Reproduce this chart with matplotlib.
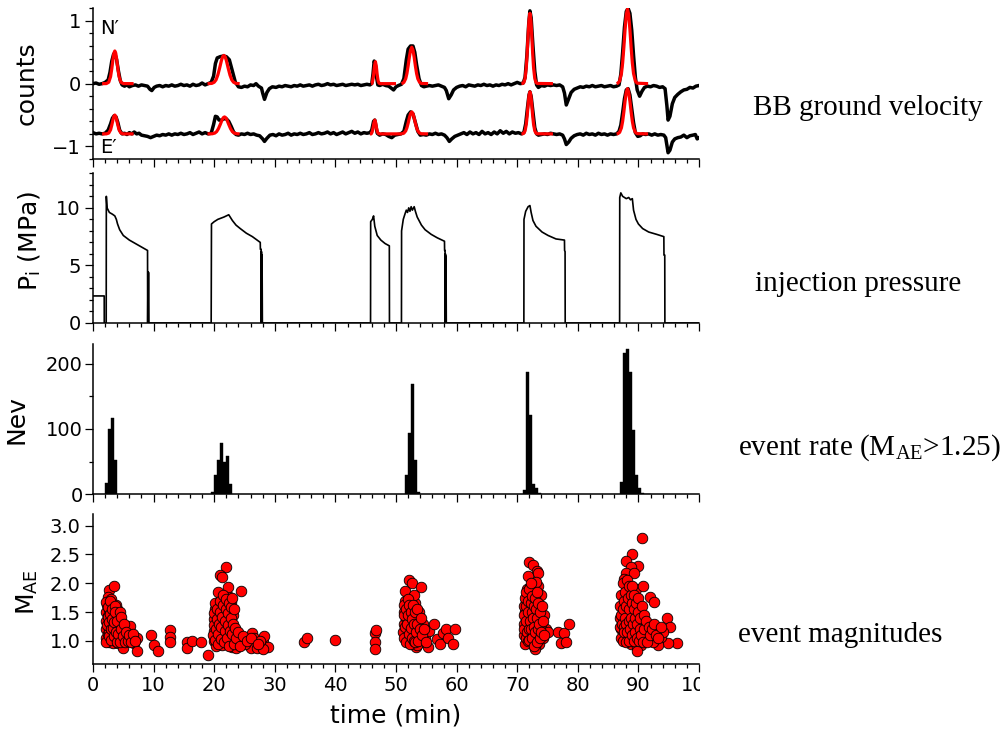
import numpy as np
import matplotlib
matplotlib.use("Agg")
import matplotlib.pyplot as plt
from matplotlib.ticker import MultipleLocator, FixedLocator
from matplotlib.transforms import Bbox, TransformedBbox

# ---------------- data ----------------
# BB ground velocity, N' component (time min, counts)
n_trace = [(0,0.0),(0.5,0.01),(1,-0.01),(1.5,0.0),(2,0.02),(2.5,0.06),(2.8,0.18),(3.1,0.36),(3.4,0.47),(3.6,0.48),
           (3.9,0.38),(4.2,0.2),(4.5,0.05),(4.8,-0.02),(5.2,-0.04),(5.6,-0.02),(6,-0.05),(6.5,-0.03),(7,-0.02),(7.5,-0.04),
           (8,-0.02),(8.5,-0.03),(9,-0.04),(9.4,-0.09),(9.7,-0.11),(10.1,-0.06),(10.5,-0.04),(11,-0.03),(11.5,-0.05),(12,-0.03),
           (12.5,-0.04),(13,-0.02),(13.5,-0.04),(14,-0.03),(14.5,-0.01),(15,-0.03),(15.5,-0.02),(16,-0.04),(16.5,-0.01),(17,-0.03),
           (17.5,-0.02),(18,0.01),(18.5,-0.02),(19,0.0),(19.5,0.02),(19.9,0.12),(20.2,0.32),(20.5,0.41),(21,0.43),(21.5,0.44),
           (22,0.43),(22.5,0.38),(23,0.2),(23.5,0.02),(24,-0.05),(24.5,-0.06),(25,-0.04),(25.5,-0.05),(26,-0.02),(26.5,-0.03),
           (26.9,0.0),(27.3,-0.04),(27.8,-0.07),(28.0,-0.15),(28.3,-0.25),(28.7,-0.14),(29.1,-0.08),(29.6,-0.05),(30.2,-0.06),
           (30.7,-0.04),(31.2,-0.05),(31.7,-0.03),(32.2,-0.04),(32.7,-0.05),(33.2,-0.03),(33.7,-0.04),(34.2,-0.02),(34.7,-0.04),
           (35.2,-0.03),(35.7,-0.02),(36.2,-0.04),(36.7,-0.02),(37.2,-0.01),(37.7,-0.03),(38.2,-0.02),(38.7,0.0),(39.2,-0.02),
           (39.7,-0.01),(40.2,-0.03),(40.7,-0.02),(41.2,-0.01),(41.7,-0.03),(42.2,-0.02),(42.7,-0.01),(43.2,-0.02),(43.7,-0.01),
           (44.2,-0.03),(44.7,-0.02),(45.2,-0.01),(45.7,-0.02),(46.0,0.0),(46.2,0.15),(46.4,0.36),(46.6,0.3),(46.8,0.1),
           (47.0,-0.02),(47.3,-0.03),(47.8,-0.01),(48.3,-0.03),(48.8,-0.04),(49.2,-0.07),(49.6,-0.1),(50.0,-0.05),(50.4,-0.03),
           (50.9,-0.01),(51.3,0.08),(51.7,0.38),(52.0,0.55),(52.4,0.6),(52.8,0.6),(53.1,0.5),(53.4,0.3),(53.8,0.08),(54.2,-0.03),
           (54.6,-0.05),(55.0,-0.04),(55.5,-0.03),(56.0,-0.04),(56.5,-0.03),(57.0,-0.02),(57.5,-0.04),(58.0,-0.06),(58.3,-0.11),
           (58.7,-0.24),(59.1,-0.18),(59.5,-0.1),(60.0,-0.06),(60.5,-0.04),(61,-0.03),(61.5,-0.05),(62,-0.02),(62.5,-0.03),
           (63,-0.04),(63.5,-0.02),(64,-0.03),(64.5,-0.01),(65,-0.03),(65.5,-0.02),(66,-0.04),(66.5,-0.02),(67,-0.03),
           (67.5,-0.01),(68,-0.02),(68.5,0.0),(69,-0.02),(69.5,0.0),(70,0.02),(70.5,0.0),(71.0,0.01),(71.3,0.1),(71.6,0.45),
           (71.9,0.95),(72.1,1.16),(72.3,1.05),(72.6,0.6),(72.9,0.2),(73.2,-0.02),(73.5,-0.06),(74,-0.03),(74.5,-0.04),(75,-0.02),
           (75.5,-0.03),(76,-0.02),(76.5,-0.03),(77,-0.02),(77.5,-0.05),(77.8,-0.15),(78.1,-0.34),(78.5,-0.24),(78.9,-0.14),
           (79.4,-0.09),(79.9,-0.07),(80.4,-0.05),(80.9,-0.06),(81.4,-0.04),(81.9,-0.05),(82.4,-0.03),(82.9,-0.05),(83.4,-0.04),
           (83.9,-0.03),(84.4,-0.05),(84.9,-0.04),(85.4,-0.03),(85.9,-0.05),(86.4,-0.04),(86.8,-0.02),(87.1,0.15),(87.4,0.5),
           (87.7,0.9),(88.0,1.15),(88.3,1.2),(88.6,1.12),(88.9,0.85),(89.2,0.45),(89.5,0.1),(89.8,-0.1),(90.2,-0.2),(90.6,-0.12),
           (91.0,-0.06),(91.5,-0.04),(92.0,-0.05),(92.5,-0.03),(93.0,-0.04),(93.5,-0.06),(94.0,-0.05),(94.4,-0.08),(94.7,-0.35),
           (94.9,-0.58),(95.2,-0.52),(95.6,-0.32),(96.0,-0.22),(96.5,-0.17),(97.0,-0.13),(97.5,-0.1),(98.0,-0.09),(98.5,-0.06),
           (99.0,-0.07),(99.5,-0.04),(100,-0.03)]

# BB ground velocity, E' component (shifted)
e_trace = [(0,-0.78),(0.5,-0.8),(1,-0.79),(1.5,-0.8),(2,-0.79),(2.5,-0.74),(2.9,-0.64),(3.2,-0.55),(3.5,-0.51),(3.8,-0.53),
           (4.1,-0.62),(4.4,-0.74),(4.8,-0.8),(5.2,-0.79),(5.6,-0.81),(6.0,-0.78),(6.4,-0.8),(6.8,-0.77),(7.2,-0.8),(7.6,-0.79),
           (8.0,-0.82),(8.5,-0.83),(9.0,-0.84),(9.5,-0.86),(10.0,-0.84),(10.5,-0.82),(11.0,-0.83),(11.5,-0.81),(12.0,-0.82),
           (12.5,-0.8),(13.0,-0.82),(13.5,-0.8),(14.0,-0.81),(14.5,-0.79),(15.0,-0.81),(15.5,-0.8),(16.0,-0.78),(16.5,-0.81),
           (17,-0.79),(17.5,-0.77),(18,-0.8),(18.5,-0.78),(19,-0.8),(19.5,-0.79),(19.9,-0.65),(20.2,-0.52),(20.5,-0.53),
           (20.8,-0.58),(21.2,-0.58),(21.6,-0.56),(22.0,-0.56),(22.4,-0.6),(22.8,-0.68),(23.2,-0.77),(23.6,-0.81),(24.0,-0.82),
           (24.5,-0.8),(25,-0.81),(25.5,-0.79),(26,-0.81),(26.5,-0.8),(27,-0.82),(27.5,-0.83),(28.0,-0.88),(28.3,-0.92),
           (28.7,-0.87),(29.2,-0.82),(29.7,-0.81),(30.2,-0.83),(30.7,-0.8),(31.2,-0.82),(31.7,-0.81),(32.2,-0.79),(32.7,-0.82),
           (33.2,-0.8),(33.7,-0.81),(34.2,-0.79),(34.7,-0.81),(35.2,-0.8),(35.7,-0.78),(36.2,-0.81),(36.7,-0.8),(37.2,-0.78),
           (37.7,-0.8),(38.2,-0.79),(38.7,-0.77),(39.2,-0.8),(39.7,-0.78),(40.2,-0.81),(40.7,-0.79),(41.2,-0.77),(41.7,-0.8),
           (42.2,-0.78),(42.7,-0.76),(43.2,-0.79),(43.7,-0.77),(44.2,-0.8),(44.7,-0.78),(45.2,-0.79),(45.7,-0.78),(46.0,-0.74),
           (46.3,-0.6),(46.5,-0.58),(46.7,-0.68),(46.9,-0.79),(47.3,-0.82),(47.8,-0.8),(48.3,-0.81),(48.8,-0.84),(49.3,-0.86),
           (49.8,-0.82),(50.3,-0.81),(50.8,-0.8),(51.3,-0.76),(51.7,-0.6),(52.0,-0.5),(52.4,-0.45),(52.8,-0.48),(53.2,-0.62),
           (53.6,-0.76),(54.0,-0.82),(54.5,-0.81),(55.0,-0.82),(55.5,-0.8),(56.0,-0.81),(56.5,-0.79),(57.0,-0.81),(57.5,-0.8),
           (58.0,-0.82),(58.4,-0.86),(58.8,-0.92),(59.2,-0.88),(59.7,-0.84),(60.2,-0.82),(60.7,-0.8),(61.2,-0.78),(61.7,-0.81),
           (62.2,-0.77),(62.7,-0.8),(63.2,-0.78),(63.7,-0.81),(64.2,-0.76),(64.7,-0.8),(65.2,-0.78),(65.7,-0.81),(66.2,-0.77),
           (66.7,-0.8),(67.2,-0.75),(67.7,-0.79),(68.2,-0.76),(68.7,-0.8),(69.2,-0.77),(69.7,-0.79),(70.2,-0.78),(70.7,-0.8),
           (71.1,-0.78),(71.4,-0.64),(71.7,-0.38),(71.95,-0.18),(72.1,-0.13),(72.3,-0.2),(72.6,-0.45),(72.9,-0.7),(73.2,-0.8),
           (73.5,-0.82),(74,-0.81),(74.5,-0.8),(75,-0.81),(75.5,-0.79),(76,-0.8),(76.5,-0.81),(77,-0.8),(77.5,-0.82),(77.8,-0.88),
           (78.1,-0.97),(78.5,-0.93),(78.9,-0.87),(79.4,-0.83),(79.9,-0.81),(80.4,-0.8),(80.9,-0.82),(81.4,-0.79),(81.9,-0.81),
           (82.4,-0.8),(82.9,-0.82),(83.4,-0.79),(83.9,-0.81),(84.4,-0.8),(84.9,-0.82),(85.4,-0.8),(85.9,-0.81),(86.4,-0.8),
           (86.8,-0.76),(87.1,-0.66),(87.4,-0.46),(87.7,-0.24),(88.0,-0.1),(88.3,-0.08),(88.6,-0.18),(88.9,-0.4),(89.2,-0.62),
           (89.5,-0.78),(89.9,-0.84),(90.3,-0.83),(90.7,-0.8),(91.2,-0.81),(91.7,-0.8),(92.2,-0.82),(92.7,-0.8),(93.2,-0.82),
           (93.7,-0.81),(94.2,-0.82),(94.5,-0.86),(94.7,-0.98),(94.9,-1.1),(95.2,-1.06),(95.6,-0.93),(96.0,-0.88),(96.5,-0.86),
           (97.0,-0.85),(97.5,-0.82),(98.0,-0.86),(98.5,-0.83),(99.0,-0.82),(99.4,-0.81),(99.7,-0.88),(100,-0.86)]

# red fitted pulses, N' (one list per pulse)
n_fits = [
    [(1.5,0),(2.2,0.001),(2.6,0.023),(2.9,0.112),(3.1,0.238),(3.3,0.393),(3.45,0.486),(3.6,0.52),(3.75,0.486),(3.9,0.393),
     (4.1,0.238),(4.3,0.112),(4.6,0.023),(5.0,0.001),(6.7,0)],
    [(18.9,0),(19.6,0.004),(20.0,0.022),(20.3,0.06),(20.6,0.138),(20.9,0.25),(21.2,0.372),(21.4,0.43),(21.6,0.45),(21.8,0.43),
     (22.0,0.372),(22.3,0.25),(22.6,0.138),(22.9,0.06),(23.2,0.022),(23.6,0.004),(24.2,0)],
    [(45.9,0),(46.0,0.0),(46.15,0.043),(46.3,0.138),(46.45,0.277),(46.6,0.35),(46.75,0.277),(46.9,0.138),(47.05,0.043),
     (47.2,0.008),(47.4,0),(50.0,0)],
    [(50.9,0),(51.0,0.003),(51.3,0.02),(51.6,0.078),(51.8,0.161),(52.0,0.282),(52.2,0.421),(52.4,0.535),(52.6,0.58),
     (52.8,0.535),(53.0,0.421),(53.2,0.282),(53.4,0.161),(53.6,0.078),(53.9,0.02),(54.2,0.003),(55.3,0)],
    [(70.7,0),(70.9,0.003),(71.1,0.019),(71.3,0.082),(71.5,0.257),(71.65,0.49),(71.8,0.776),(71.95,1.02),(72.1,1.12),
     (72.25,1.02),(72.4,0.776),(72.55,0.49),(72.7,0.257),(72.9,0.082),(73.1,0.019),(73.3,0.003),(75.9,0)],
    [(86.4,0),(86.6,0.007),(86.9,0.04),(87.2,0.161),(87.4,0.331),(87.6,0.579),(87.8,0.864),(88.0,1.098),(88.2,1.19),
     (88.4,1.098),(88.6,0.864),(88.8,0.579),(89.0,0.331),(89.2,0.161),(89.5,0.04),(89.8,0.007),(91.6,0)],
]
# red fitted pulses, E'
e_fits = [
    [(1.5,-0.8),(2.2,-0.8),(2.6,-0.787),(2.9,-0.735),(3.1,-0.66),(3.3,-0.573),(3.45,-0.52),(3.6,-0.5),(3.75,-0.52),
     (3.9,-0.573),(4.1,-0.66),(4.3,-0.735),(4.6,-0.787),(5.0,-0.8),(6.7,-0.8)],
    [(18.9,-0.8),(19.7,-0.798),(20.1,-0.787),(20.4,-0.764),(20.7,-0.717),(21.0,-0.65),(21.3,-0.577),(21.5,-0.542),
     (21.7,-0.53),(21.9,-0.542),(22.1,-0.577),(22.4,-0.65),(22.7,-0.717),(23.0,-0.764),(23.3,-0.787),(23.7,-0.798),(24.2,-0.8)],
    [(45.7,-0.8),(45.9,-0.8),(46.05,-0.773),(46.2,-0.713),(46.35,-0.626),(46.5,-0.58),(46.65,-0.626),(46.8,-0.713),
     (46.95,-0.773),(47.1,-0.795),(47.3,-0.8),(51.0,-0.8)],
    [(51.0,-0.8),(51.3,-0.788),(51.6,-0.753),(51.8,-0.703),(52.0,-0.63),(52.2,-0.546),(52.4,-0.477),(52.6,-0.45),
     (52.8,-0.477),(53.0,-0.546),(53.2,-0.63),(53.4,-0.703),(53.6,-0.753),(53.9,-0.788),(54.2,-0.798),(55.3,-0.8)],
    [(70.7,-0.8),(70.9,-0.798),(71.1,-0.789),(71.3,-0.751),(71.5,-0.646),(71.65,-0.507),(71.8,-0.336),(71.95,-0.19),
     (72.1,-0.13),(72.25,-0.19),(72.4,-0.336),(72.55,-0.507),(72.7,-0.646),(72.9,-0.751),(73.1,-0.789),(73.3,-0.798),(75.9,-0.8)],
    [(86.4,-0.8),(86.6,-0.796),(86.9,-0.776),(87.2,-0.703),(87.4,-0.6),(87.6,-0.45),(87.8,-0.277),(88.0,-0.136),(88.2,-0.08),
     (88.4,-0.136),(88.6,-0.277),(88.8,-0.45),(89.0,-0.6),(89.2,-0.703),(89.5,-0.776),(89.8,-0.796),(91.6,-0.8)],
]

# injection pressure (time min, MPa)
pressure = [(0,2.35),(1.85,2.35),(1.86,0),(2.18,0),(2.2,11.0),(2.32,10.0),(2.7,9.6),(3.2,9.45),(3.6,9.3),(3.85,9.0),
            (4.05,8.6),(4.4,8.1),(5.0,7.6),(6.0,7.2),(7.0,6.9),(8.0,6.6),(9.0,6.3),(9.02,0),(9.08,4.4),(9.12,0),(9.16,4.4),
            (9.2,0),(19.5,0),(19.55,8.6),(20.0,8.8),(20.6,9.0),(21.6,9.2),(22.4,9.4),(23.0,8.9),(23.6,8.5),(24.3,8.2),
            (25.3,7.8),(26.3,7.5),(27.6,7.0),(27.62,6.4),(27.75,6.4),(27.77,0),(27.8,6.2),(27.85,0),(27.9,5.9),(27.95,0),
            (45.8,0),(45.82,8.8),(46.1,9.0),(46.3,9.3),(46.5,8.4),(46.9,7.6),(47.5,7.2),(48.2,6.9),(48.9,6.7),(48.92,0),
            (50.9,0),(50.92,8.0),(51.2,9.0),(51.5,9.5),(51.7,9.8),(51.9,9.6),(52.1,10.0),(52.3,9.7),(52.5,10.1),(52.7,9.8),
            (53.0,10.1),(53.2,9.7),(53.5,9.2),(54.2,8.5),(54.8,8.1),(55.8,7.7),(56.8,7.4),(58.0,7.1),(58.02,6.3),(58.1,6.3),
            (58.12,0),(58.16,6.0),(58.2,0),(58.25,5.8),(58.3,0),(71.1,0),(71.12,9.0),(71.4,9.7),(71.8,10.1),(72.1,10.2),
            (72.3,9.6),(72.6,8.9),(73.1,8.4),(74.1,7.9),(75.1,7.6),(76.4,7.3),(77.8,7.2),(77.82,6.3),(77.9,6.2),(77.92,0),
            (86.9,0),(86.92,10.9),(87.1,11.3),(87.4,11.0),(87.7,10.9),(88.0,10.8),(88.4,10.9),(88.7,10.7),(89.0,10.8),
            (89.2,9.8),(89.6,9.0),(90.0,8.6),(90.7,8.2),(91.7,7.9),(93.0,7.7),(94.2,7.5),(94.22,5.9),(94.35,5.9),(94.37,0),
            (100,0)]

# event rate histogram (bin start in min, 0.5-min bins; events with M_AE > 1.25)
rate_bin_start = [2.0, 2.5, 3.0, 3.5,
                  19.5, 20.0, 20.5, 21.0, 21.5, 22.0, 22.5,
                  51.5, 52.0, 52.5, 53.0, 53.5,
                  71.0, 71.5, 72.0, 72.5, 73.0, 73.5,
                  87.0, 87.5, 88.0, 88.5, 89.0, 89.5, 90.0, 90.5, 91.0, 91.5]
rate_count = [18, 100, 117, 52,
              3, 29, 52, 79, 49, 58, 15,
              29, 94, 169, 52, 4,
              7, 187, 121, 16, 10, 2,
              19, 216, 222, 187, 98, 29, 10, 2, 1, 1]

# event magnitudes (time min, M_AE)
events = [
    # episode 1
    (2.2,1.05),(2.2,1.2),(2.2,1.35),(2.2,1.5),(2.3,1.62),(2.4,1.12),(2.5,1.28),(2.5,1.44),(2.6,0.98),(2.7,1.18),(2.7,1.55),
    (2.8,1.36),(2.9,1.05),(3.0,1.25),(3.0,1.48),(3.1,1.6),(3.2,1.12),(3.3,1.34),(3.3,0.97),(3.4,1.52),(3.5,1.2),(3.6,1.42),
    (3.7,1.05),(3.8,1.3),(3.9,1.56),(4.0,1.15),(4.1,0.96),(4.2,1.4),(4.3,1.25),(4.5,1.05),(4.6,1.32),(4.8,1.15),(5.0,0.98),
    (5.2,1.22),(5.5,1.08),(5.8,1.18),(6.1,1.26),(6.0,1.0),(6.4,1.1),(6.8,0.96),(7.2,1.05),(7.2,0.83),(4.9,0.87),(2.6,1.89),
    (3.45,1.95),(2.4,1.76),(2.2,1.68),(3.0,1.72),(3.8,1.62),
    (2.1,0.98),(2.3,1.28),(2.4,1.42),(2.5,1.58),(2.6,1.08),(2.7,1.33),(2.8,1.46),(2.8,1.7),(2.9,1.2),(3.0,1.02),(3.1,1.38),
    (3.2,1.55),(3.3,1.22),(3.4,1.08),(3.5,1.33),(3.6,1.6),(3.7,1.5),(3.8,1.15),(3.9,0.98),(4.0,1.35),(4.2,1.12),(4.4,1.5),
    (4.4,0.98),(4.6,1.2),(4.7,1.42),(4.9,1.08),(5.1,1.3),(5.3,0.98),(5.4,1.15),(5.7,1.0),(5.9,1.1),(6.3,0.98),(6.6,1.12),
    (7.0,1.0),
    (9.6,1.1),(10.0,0.93),(10.7,0.83),(12.7,1.19),(12.7,1.07),(12.7,0.98),(15.5,0.98),(15.5,0.87),(16.3,1.0),(17.8,0.99),
    (18.9,0.75),
    # episode 2
    (19.9,1.0),(19.9,1.18),(20.0,1.38),(20.1,1.55),(20.3,0.92),(20.4,1.1),(20.5,1.28),(20.6,1.46),(20.7,1.65),(20.8,1.0),
    (20.9,1.2),(21.0,1.38),(21.1,1.55),(21.2,1.75),(21.3,0.93),(21.4,1.1),(21.5,1.3),(21.6,1.48),(21.7,1.66),(21.8,1.02),
    (21.9,1.22),(22.0,1.4),(22.1,1.58),(22.2,1.78),(22.3,0.95),(22.4,1.12),(22.5,1.32),(22.6,1.52),(22.7,1.68),(22.8,1.05),
    (22.9,1.25),(23.0,0.9),(23.1,1.45),(23.3,1.0),(23.5,1.15),(23.8,0.95),(24.1,1.08),(24.5,1.0),(22.0,2.28),(21.0,2.14),
    (21.3,2.11),(22.3,1.94),(24.5,1.86),(20.7,1.85),(26.3,1.13),(26.6,1.05),(26.0,0.87),(27.0,0.87),(28.0,0.98),(28.3,1.09),
    (28.8,0.89),(28.0,0.86),(24.3,1.05),(23.6,0.87),(25.0,0.95),(27.5,1.0),
    (19.8,1.1),(19.9,1.28),(20.0,1.48),(20.1,1.65),(20.2,1.02),(20.3,1.2),(20.4,1.38),(20.5,1.55),(20.6,0.95),(20.7,1.12),
    (20.8,1.3),(20.9,1.5),(21.0,1.7),(21.1,1.03),(21.2,1.25),(21.3,1.42),(21.4,1.62),(21.5,1.8),(21.6,0.98),(21.7,1.18),
    (21.8,1.35),(21.9,1.55),(22.0,1.72),(22.1,1.05),(22.2,1.28),(22.3,1.48),(22.4,1.65),(22.5,0.92),(22.6,1.18),(22.7,1.4),
    (22.8,1.58),(22.9,1.75),(23.0,1.12),(23.1,1.3),(23.2,0.95),(23.3,1.55),(23.4,1.22),(23.6,1.05),(23.9,1.15),(24.2,0.92),
    (24.8,1.08),(25.4,1.0),(26.0,1.05),(27.2,0.95),
    (34.9,0.98),(35.3,1.05),(39.9,1.02),(46.5,1.14),(46.5,0.99),(46.5,0.86),(46.7,1.19),
    # episode 3
    (51.3,1.3),(51.4,1.5),(51.5,1.7),(51.6,1.15),(51.7,1.4),(51.8,1.6),(52.0,1.25),(52.0,1.05),(52.2,1.48),(52.3,1.72),
    (52.4,1.35),(52.5,1.15),(52.6,1.58),(52.7,0.95),(52.8,1.3),(52.9,1.45),(53.0,1.1),(53.1,1.65),(53.2,1.25),(53.3,0.9),
    (53.4,1.4),(53.5,1.05),(53.6,1.2),(53.8,1.5),(54.0,1.1),(54.2,0.99),(54.4,1.3),(54.8,1.05),(55.2,0.89),(55.5,1.17),
    (56.2,1.29),(56.8,1.03),(57.2,0.94),(57.8,1.13),(58.3,1.2),(58.5,1.05),(59.4,0.94),(59.8,1.2),(52.2,2.05),(52.7,2.01),
    (54.2,1.94),(51.5,1.86),(53.5,0.93),(51.3,1.45),(53.0,1.8),
    (51.2,1.15),(51.3,1.62),(51.4,1.05),(51.5,1.25),(51.6,1.55),(51.7,0.98),(51.8,1.3),(51.9,1.72),(52.0,1.45),(52.1,1.12),
    (52.2,1.62),(52.3,0.95),(52.4,1.22),(52.5,1.5),(52.6,1.05),(52.7,1.38),(52.8,1.62),(52.9,1.0),(53.0,1.3),(53.1,1.5),
    (53.2,0.98),(53.3,1.15),(53.4,1.55),(53.5,1.3),(53.7,1.0),(53.9,1.2),(54.1,1.4),(54.3,1.1),(54.6,1.2),(55.0,0.98),
    # episode 4
    (71.2,1.1),(71.2,1.3),(71.3,1.5),(71.4,1.7),(71.5,1.2),(71.6,1.4),(71.6,1.9),(71.8,1.05),(71.9,1.3),(72.0,1.55),
    (72.0,1.75),(72.2,1.15),(72.3,1.42),(72.4,0.95),(72.5,1.62),(72.6,1.25),(72.7,1.85),(72.8,1.05),(72.9,1.5),(73.0,0.9),
    (73.1,1.3),(73.2,1.7),(73.3,1.1),(73.4,1.95),(73.5,1.4),(73.6,0.95),(73.7,1.6),(73.8,1.2),(74.0,1.8),(74.2,1.05),
    (74.4,1.45),(74.8,1.2),(75.1,1.16),(76.8,1.16),(77.3,0.96),(77.8,1.13),(78.1,0.99),(78.6,1.29),(72.9,0.9),(73.0,0.86),
    (72.0,2.37),(72.6,2.31),(73.2,2.22),(73.4,2.18),(71.8,2.13),(72.1,1.94),(73.1,2.03),(71.2,1.6),(73.9,1.3),
    (71.1,1.2),(71.2,1.45),(71.3,0.95),(71.3,1.75),(71.4,1.05),(71.4,1.35),(71.5,1.6),(71.5,1.85),(71.6,1.15),(71.7,1.0),
    (71.7,1.5),(71.8,1.7),(71.9,1.2),(71.9,1.9),(72.0,1.02),(72.1,1.35),(72.2,1.65),(72.2,2.0),(72.3,1.2),(72.4,1.5),
    (72.4,1.78),(72.5,1.05),(72.6,1.4),(72.7,1.6),(72.7,0.92),(72.8,1.25),(72.9,1.75),(73.0,1.15),(73.1,1.55),(73.2,0.98),
    (73.3,1.4),(73.3,1.85),(73.4,1.2),(73.5,1.65),(73.6,1.3),(73.7,1.05),(73.8,1.5),(74.0,1.15),(74.2,1.35),(74.5,1.1),
    (74.1,1.6),
    # episode 5
    (87.0,1.4),(87.2,1.2),(87.3,1.6),(87.5,1.8),(87.6,1.05),(87.7,1.35),(87.8,1.55),(88.0,1.95),(88.1,1.25),(88.2,1.7),
    (88.3,1.45),(88.4,1.1),(88.5,1.85),(88.6,1.3),(88.7,1.6),(88.8,0.95),(88.9,1.5),(89.0,1.2),(89.1,1.75),(89.2,1.38),
    (89.3,1.05),(89.4,1.6),(89.5,1.25),(89.6,1.9),(89.7,1.45),(89.8,0.9),(89.9,1.15),(90.0,1.35),(90.1,1.55),(90.3,1.05),
    (90.4,1.25),(90.5,1.45),(90.7,1.15),(90.9,1.3),(91.1,1.05),(91.3,1.2),(91.6,1.1),(92.0,1.25),(92.3,1.05),(92.6,1.15),
    (93.0,1.0),(90.6,2.79),(89.0,2.5),(87.9,2.38),(89.9,2.3),(88.7,2.28),(87.9,2.17),(89.2,2.17),(87.7,2.08),(90.7,1.95),
    (88.2,1.97),(91.9,1.76),(92.6,1.68),(94.8,1.39),(95.2,1.25),(96.3,0.96),(94.9,0.97),(93.4,1.17),(93.7,1.07),(93.2,0.93),
    (92.4,0.99),(91.4,1.07),(90.4,0.93),(89.7,0.83),(94.0,1.16),(92.7,1.16),
    (86.9,1.25),(87.0,1.6),(87.1,1.05),(87.1,1.45),(87.2,1.8),(87.3,1.3),(87.4,1.0),(87.4,1.55),(87.5,2.0),(87.6,1.25),
    (87.6,1.7),(87.7,1.15),(87.8,1.4),(87.8,1.85),(87.9,0.98),(88.0,1.3),(88.0,1.6),(88.1,2.05),(88.2,1.15),(88.3,1.75),
    (88.4,1.35),(88.4,1.95),(88.5,1.0),(88.5,1.55),(88.6,1.2),(88.7,1.8),(88.8,1.4),(88.9,1.1),(88.9,1.65),(89.0,1.95),
    (89.1,1.3),(89.2,1.0),(89.2,1.55),(89.3,1.8),(89.4,1.15),(89.5,1.4),(89.6,1.65),(89.7,1.05),(89.8,1.3),(89.9,1.5),
    (90.0,1.75),(90.1,1.0),(90.2,1.2),(90.3,1.4),(90.5,1.1),(90.6,1.6),(90.8,0.98),(90.9,1.45),(91.0,1.2),(91.2,1.35),
    (91.5,0.98),(91.7,1.25),(91.9,1.1),(92.2,1.2),(92.5,1.3),(92.9,1.1),(93.3,1.05),(93.8,1.25),
]

x_ticks = [0, 10, 20, 30, 40, 50, 60, 70, 80, 90, 100]
x_tick_labels = ["0", "10", "20", "30", "40", "50", "60", "70", "80", "90", "100"]
side_titles = ["BB ground velocity", "injection pressure",
               r"event rate (M$_{\mathrm{AE}}$>1.25)", "event magnitudes"]

# ---------------- drawing ----------------
plt.rcParams["font.family"] = ["DejaVu Sans"]
plt.rcParams["mathtext.fontset"] = "custom"
plt.rcParams["mathtext.rm"] = "Liberation Serif"
plt.rcParams["mathtext.sf"] = "DejaVu Sans"
plt.rcParams["mathtext.it"] = "Liberation Serif:italic"

W, H = 1002, 740
fig = plt.figure(figsize=(W / 100, H / 100), dpi=100)

XL, XR = 93, 699
TICK_FS = 14
LABEL_FS = 18


def make_axes(top, bottom):
    return fig.add_axes([XL / W, 1 - bottom / H, (XR - XL) / W, (bottom - top) / H])


def style(ax, show_xlabels=False):
    for s in ("top", "right"):
        ax.spines[s].set_visible(False)
    for s in ("left", "bottom"):
        ax.spines[s].set_linewidth(1.1)
    ax.set_xlim(0, 100)
    ax.xaxis.set_major_locator(FixedLocator(x_ticks))
    ax.xaxis.set_minor_locator(MultipleLocator(2))
    ax.tick_params(which="major", direction="out", length=5.8, width=0.9, labelsize=TICK_FS, pad=3)
    ax.tick_params(which="minor", direction="out", length=3.0, width=0.9)
    ax.tick_params(axis="x", labelbottom=show_xlabels)


# panel 1: ground velocity
ax1 = make_axes(8.3, 159)
style(ax1)
nt, nv = zip(*n_trace)
et, ev = zip(*e_trace)
ax1.plot(nt, nv, color="black", lw=2.5, solid_joinstyle="round", zorder=2)
ax1.plot(et, ev, color="black", lw=2.5, solid_joinstyle="round", zorder=2)
for pulse in n_fits + e_fits:
    pt, pv = zip(*pulse)
    ax1.plot(pt, pv, color="#ff0000", lw=2.3, solid_capstyle="butt", zorder=3)
ax1.set_ylim(-1.2, 1.2)
ax1.yaxis.set_major_locator(FixedLocator([-1, 0, 1]))
ax1.yaxis.set_minor_locator(MultipleLocator(0.2))
ax1.set_yticklabels(["\u22121", "0", "1"])
ax1.set_ylabel("counts", fontsize=LABEL_FS)
ax1.yaxis.set_label_coords(-0.089, 0.5)
ax1.text(1.2, 0.88, "N\u2032", fontsize=TICK_FS, ha="left", va="center", zorder=5)
ax1.text(1.2, -1.02, "E\u2032", fontsize=TICK_FS, ha="left", va="center", zorder=5)

# panel 2: injection pressure
ax2 = make_axes(173.3, 323)
style(ax2)
pt, pv = zip(*pressure)
ax2.plot(pt, pv, color="black", lw=1.2)
ax2.set_ylim(0, 13)
ax2.yaxis.set_major_locator(FixedLocator([0, 5, 10]))
ax2.yaxis.set_minor_locator(MultipleLocator(1))
ax2.set_ylabel(r"P$_{\mathsf{i}}$ (MPa)", fontsize=LABEL_FS)
ax2.yaxis.set_label_coords(-0.083, 0.55)

# panel 3: event rate
ax3 = make_axes(344, 494.3)
style(ax3)
ax3.bar(rate_bin_start, rate_count, width=0.5, align="edge", color="black", edgecolor="black", linewidth=0.3)
ax3.set_ylim(0, 230)
ax3.yaxis.set_major_locator(FixedLocator([0, 100, 200]))
ax3.yaxis.set_minor_locator(MultipleLocator(50))
ax3.tick_params(axis="y", which="major", pad=1.5)
ax3.set_ylabel("Nev", fontsize=LABEL_FS)
ax3.yaxis.set_label_coords(-0.107, 0.5)

# panel 4: magnitudes
ax4 = make_axes(514, 664)
style(ax4, show_xlabels=True)
mt, mv = zip(*events)
ax4.scatter(mt, mv, s=58, c="#ff0000", edgecolors="black", linewidths=0.6, zorder=3)
ax4.set_ylim(0.6, 3.2)
ax4.yaxis.set_major_locator(FixedLocator([1.0, 1.5, 2.0, 2.5, 3.0]))
ax4.set_yticklabels(["1.0", "1.5", "2.0", "2.5", "3.0"])
ax4.set_xticklabels(x_tick_labels)
ax4.set_ylabel(r"M$_{\mathsf{AE}}$", fontsize=LABEL_FS)
ax4.yaxis.set_label_coords(-0.0875, 0.48)
ax4.set_xlabel("time (min)", fontsize=LABEL_FS, labelpad=6)

# clip the last x label like in the reference
clip = TransformedBbox(Bbox([[0, 0], [700 / W, 1]]), fig.transFigure)
for lab in ax4.get_xticklabels():
    if lab.get_text() == "100":
        lab.set_clip_box(clip)
        lab.set_clip_on(True)

# side titles
side_pos = [(753, 115), (755, 291), (738, 455), (738, 642)]
for (x, y), txt in zip(side_pos, side_titles):
    fig.text(x / W, 1 - y / H, txt, fontsize=21, family="Liberation Serif",
             ha="left", va="baseline")

fig.savefig("out.png", dpi=100)
